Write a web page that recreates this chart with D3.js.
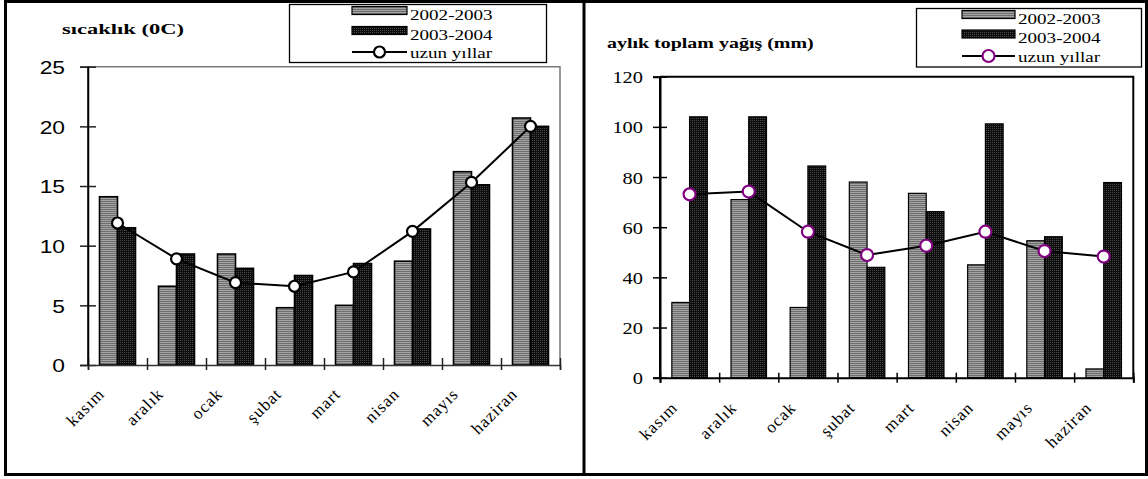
<!DOCTYPE html>
<html><head><meta charset="utf-8">
<script src="https://cdn.jsdelivr.net/npm/d3@7"></script>
<style>body{margin:0;background:#fff}svg{display:block}</style>
</head><body>
<svg id="c" width="1148" height="479"></svg>
<script>
const months = ["kasım","aralık","ocak","şubat","mart","nisan","mayıs","haziran"];
const seriesNames = ["2002-2003","2003-2004","uzun yıllar"];
const temp2002 = [14.1, 6.6, 9.3, 4.8, 5.0, 8.7, 16.2, 20.7];
const temp2003 = [11.5, 9.3, 8.1, 7.5, 8.5, 11.4, 15.1, 20.0];
const tempLong = [11.9, 8.9, 6.9, 6.6, 7.8, 11.2, 15.3, 20.0];
const tempTicks = [0, 5, 10, 15, 20, 25];
const rain2002 = [30, 71, 28, 78, 73.5, 45, 54.6, 3.5];
const rain2003 = [104, 104, 84.4, 44, 66.2, 101.2, 56.2, 77.8];
const rainLong = [73.1, 74.2, 58.2, 48.9, 52.6, 58.2, 50.5, 48.3];
const rainTicks = [0, 20, 40, 60, 80, 100, 120];
const titles = ["sıcaklık  (0C)", "aylık toplam yağış (mm)"];

const svg = d3.select("#c");
const SX = 1.2;
const defs = svg.append("defs");
const pg = defs.append("pattern").attr("id","pGray").attr("patternUnits","userSpaceOnUse").attr("width",4).attr("height",2);
pg.append("rect").attr("width",4).attr("height",1).attr("fill","#a4a4a4");
pg.append("rect").attr("y",1).attr("width",4).attr("height",1).attr("fill","#6e6e6e");
const pb = defs.append("pattern").attr("id","pBlack").attr("patternUnits","userSpaceOnUse").attr("width",2).attr("height",2);
pb.append("rect").attr("width",2).attr("height",2).attr("fill","#0c0c0c");
pb.append("rect").attr("width",1).attr("height",1).attr("fill","#4a4a4a");

function stext(g, x, y, str, opts) {
  const t = g.append("text")
    .attr("x", x).attr("y", y)
    .attr("font-family", opts.family || "Liberation Serif")
    .attr("font-size", opts.size || 15)
    .attr("font-weight", opts.weight || "normal")
    .attr("text-anchor", opts.anchor || "start")
    .attr("fill", "#000")
    .text(str);
  if (opts.dy) t.attr("dy", opts.dy);
  const w = t.node().getComputedTextLength();
  t.attr("textLength", (w * (opts.stretch || SX)).toFixed(2)).attr("lengthAdjust", "spacingAndGlyphs");
  return t;
}

function drawChart(cfg) {
  const g = svg.append("g");
  const x = d3.scaleBand().domain(months).range([cfg.x0, cfg.x1]);
  const xb = d3.scaleLinear().domain([0, months.length]).range([cfg.x0, cfg.x1]);
  const y = d3.scaleLinear().domain([0, d3.max(cfg.ticks)]).range([cfg.y0, cfg.y1]);
  const bw = x.bandwidth() * cfg.barFrac;

  g.append("path")
    .attr("d", `M${cfg.x0},${cfg.y1}H${cfg.x1}V${cfg.y0}`)
    .attr("fill","none").attr("stroke", cfg.frameColor).attr("stroke-width", cfg.frameW);

  const series = [cfg.a, cfg.b];
  const fills = ["url(#pGray)", "url(#pBlack)"];
  series.forEach((arr, si) => {
    g.append("g").selectAll("rect").data(arr).join("rect")
      .attr("x", (d, i) => x(months[i]) + x.bandwidth()/2 - bw + si*bw)
      .attr("y", d => y(d))
      .attr("width", bw)
      .attr("height", d => y(0) - y(d))
      .attr("fill", fills[si])
      .attr("stroke", "#000").attr("stroke-width", cfg.barStroke);
  });

  const ya = g.append("g").attr("transform", `translate(${cfg.x0},0)`)
    .call(d3.axisLeft(y).tickValues(cfg.ticks).tickSize(cfg.tickL).tickFormat(""));
  ya.select(".domain").attr("stroke", "#000").attr("stroke-width", cfg.axisW);
  ya.selectAll(".tick line").attr("x1", cfg.tickR).attr("stroke", cfg.tickColor).attr("stroke-width", 1.5);
  ya.selectAll(".tick").each(function(d) {
    stext(d3.select(this), cfg.ylabX, 0, String(d), {family: cfg.yFont, size: cfg.ySize, anchor: "end", dy: "0.36em"});
  });

  const xa = g.append("g").attr("transform", `translate(0,${cfg.y0})`)
    .call(d3.axisBottom(xb).tickValues(d3.range(months.length + 1)).tickSize(cfg.xTickD).tickFormat(""));
  xa.select(".domain").attr("stroke", cfg.xAxisColor).attr("stroke-width", cfg.axisW);
  xa.selectAll(".tick line").attr("y1", -cfg.xTickU).attr("stroke", cfg.tickColor).attr("stroke-width", 1.5);
  g.append("line").attr("x1", cfg.x0).attr("x2", cfg.x0).attr("y1", cfg.y1).attr("y2", cfg.y0)
    .attr("stroke", "#000").attr("stroke-width", cfg.axisW);

  // rotated category labels
  months.forEach(m => {
    const px = x(m) + x.bandwidth()/2 + cfg.labDX, py = cfg.y0 + cfg.labDY;
    g.append("g").attr("transform", `translate(${px},${py}) rotate(-45)`)
      .append("text").attr("text-anchor", "end")
      .attr("font-family", "Liberation Serif").attr("font-size", cfg.labSize)
      .attr("letter-spacing", 1)
      .attr("fill", "#000")
      .text(m);
  });

  const line = d3.line().x((d, i) => x(months[i]) + x.bandwidth()/2).y(d => y(d));
  g.append("path").attr("d", line(cfg.c)).attr("fill","none").attr("stroke","#000").attr("stroke-width", 2);
  g.append("g").selectAll("circle").data(cfg.c).join("circle")
    .attr("cx", (d, i) => x(months[i]) + x.bandwidth()/2)
    .attr("cy", d => y(d))
    .attr("r", cfg.mr)
    .attr("fill", "#fff").attr("stroke", cfg.markColor).attr("stroke-width", 2.2);

  stext(g, cfg.tx, cfg.ty, cfg.title, {size: 15, weight: "bold", stretch: cfg.tstretch});

  const L = cfg.leg;
  g.append("rect").attr("x", L.x).attr("y", L.y).attr("width", L.w).attr("height", L.h)
    .attr("fill", "#fff").attr("stroke", "#000").attr("stroke-width", 1.3);
  fills.forEach((f, i) => {
    g.append("rect").attr("x", L.sx).attr("y", L.rows[i] - 13).attr("width", L.sw).attr("height", 8)
      .attr("fill", f).attr("stroke", "#000").attr("stroke-width", 1.2);
  });
  const ly = L.rows[2] - 6;
  g.append("line").attr("x1", L.sx).attr("x2", L.sx + L.sw).attr("y1", ly).attr("y2", ly)
    .attr("stroke", "#000").attr("stroke-width", 2);
  g.append("circle").attr("cx", L.sx + L.sw/2).attr("cy", ly).attr("r", cfg.mr)
    .attr("fill", "#fff").attr("stroke", cfg.markColor).attr("stroke-width", 2.2);
  seriesNames.forEach((s, i) => {
    stext(g, L.sx + L.sw + 3, L.rows[i], s, {size: 15.5, stretch: 1.23});
  });
}

drawChart({
  x0: 88, x1: 560, y0: 365, y1: 66.7, ticks: tempTicks, a: temp2002, b: temp2003, c: tempLong,
  barFrac: 0.305, barStroke: 1.6, frameColor: "#7a7a7a", frameW: 1.5, axisW: 1.5, xAxisColor: "#333",
  tickL: 8, tickR: 8, tickColor: "#222", xTickD: 5, xTickU: 7,
  ylabX: -23, yFont: "Liberation Sans", ySize: 19,
  labDX: -12, labDY: 30, labSize: 17,
  mr: 5.5, markColor: "#000",
  title: titles[0], tx: 62, ty: 33.5, tstretch: 1.5,
  leg: {x: 289.5, y: 4.5, w: 257, h: 58, sx: 352, sw: 55, rows: [19.5, 39.5, 58]}
});
drawChart({
  x0: 660, x1: 1133.3, y0: 377.7, y1: 76.7, ticks: rainTicks, a: rain2002, b: rain2003, c: rainLong,
  barFrac: 0.3, barStroke: 1.2, frameColor: "#000", frameW: 2, axisW: 2, xAxisColor: "#000",
  tickL: 7, tickR: 7, tickColor: "#000", xTickD: 5, xTickU: 5,
  ylabX: -17, yFont: "Liberation Serif", ySize: 17,
  labDX: -11, labDY: 31, labSize: 17,
  mr: 6, markColor: "#800080",
  title: titles[1], tx: 607, ty: 47.5, tstretch: 1.33,
  leg: {x: 916.5, y: 8.5, w: 225, h: 58.5, sx: 962, sw: 53, rows: [23.5, 43, 62]}
});

svg.append("rect").attr("x", 5.5).attr("y", 1.5).attr("width", 1141).attr("height", 473)
  .attr("fill", "none").attr("stroke", "#000").attr("stroke-width", 3);
svg.append("line").attr("x1", 584).attr("x2", 584).attr("y1", 1).attr("y2", 475)
  .attr("stroke", "#000").attr("stroke-width", 3);
</script>
</body></html>
